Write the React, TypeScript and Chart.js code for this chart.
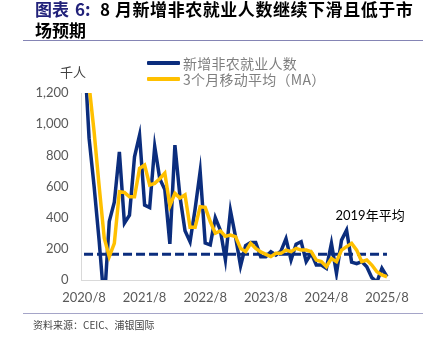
import React, { useEffect, useRef } from "react";
import { Chart, registerables } from "chart.js";

Chart.register(...registerables);

// Monthly categories 2020/8 .. 2025/8
const startYear = 2020;
const startMonth = 8;
const monthCount = 61;
const categories: string[] = [];
for (let i = 0; i < monthCount; i++) {
  const m = startMonth - 1 + i;
  categories.push(`${startYear + Math.floor(m / 12)}/${(m % 12) + 1}`);
}

const tickLabels = ["2020/8", "2021/8", "2022/8", "2023/8", "2024/8", "2025/8"];
const yTicks = [0, 200, 400, 600, 800, 1000, 1200];

// 新增非农就业人数 (千人)
const payrolls = [
  1500, 910, 600, 250, -150, 376, 500, 822, 365, 416, 790, 930,
  481, 465, 857, 650, 580, 232, 866, 535, 316, 246, 455, 697,
  237, 225, 400, 320, 130, 445, 278, 90, 220, 240, 240, 150,
  150, 182, 160, 185, 265, 128, 230, 246, 118, 171, 96, 96,
  75, 235, 43, 256, 320, 115, 105, 118, 85, 15, -13, 75,
  22,
];

// 3个月移动平均（MA）
const ma3 = [
  1900, 1250, 950, 600, 270, 150, 235, 566, 562, 534, 534, 716,
  737, 610, 620, 650, 686, 476, 556, 526, 546, 338, 338, 470,
  466, 375, 300, 315, 280, 288, 278, 203, 182, 235, 203, 180,
  165, 150, 171, 171, 192, 182, 203, 192, 192, 182, 128, 118,
  85, 139, 118, 192, 214, 235, 192, 118, 128, 96, 53, 32,
  21,
];

const avg2019 = 166;
const avgLabel = "2019年平均";

const NAVY = "#0B2D7D";
const GOLD = "#FFC000";

const labelPlugin = {
  id: "avgLabel",
  afterDatasetsDraw(chart: any) {
    const { ctx, scales } = chart;
    const x = scales.x.getPixelForValue(49.8);
    const y = scales.y.getPixelForValue(410);
    ctx.save();
    ctx.font = "13px Lato, 'Noto Sans CJK SC'";
    ctx.fillStyle = "#000";
    ctx.textAlign = "left";
    ctx.textBaseline = "middle";
    ctx.fillText(avgLabel, x, y);
    ctx.restore();
  },
};

export default function App() {
  const ref = useRef<HTMLCanvasElement | null>(null);

  useEffect(() => {
    if (!ref.current) return;
    const chart = new Chart(ref.current, {
      type: "line",
      data: {
        labels: categories,
        datasets: [
          {
            label: "3个月移动平均（MA）",
            data: ma3,
            borderColor: GOLD,
            backgroundColor: GOLD,
            borderWidth: 3.5,
            pointRadius: 0,
            tension: 0,
            order: 0,
          },
          {
            label: "新增非农就业人数",
            data: payrolls,
            borderColor: NAVY,
            backgroundColor: NAVY,
            borderWidth: 3.5,
            pointRadius: 0,
            tension: 0,
            order: 1,
          },
          {
            label: avgLabel,
            data: categories.map(() => avg2019),
            borderColor: NAVY,
            backgroundColor: NAVY,
            borderWidth: 3,
            borderDash: [9, 4],
            pointRadius: 0,
            tension: 0,
            order: 2,
          },
        ],
      },
      options: {
        responsive: false,
        animation: false,
        devicePixelRatio: 1,
        layout: { padding: { left: 0, right: 39.5, top: 93, bottom: 18 } },
        plugins: { legend: { display: false }, tooltip: { enabled: false } },
        scales: {
          x: {
            offset: true,
            grid: { display: false, drawTicks: false },
            border: { color: "#D9D9D9", width: 1 },
            ticks: {
              autoSkip: false,
              maxRotation: 0,
              minRotation: 0,
              padding: 10,
              color: "#595959",
              font: { family: "Lato", size: 13 },
              callback: (_v: any, i: number) =>
                tickLabels.includes(categories[i]) ? categories[i] : "",
            },
            afterFit: (s: any) => {
              s.height = 40;
            },
          },
          y: {
            min: yTicks[0],
            max: yTicks[yTicks.length - 1],
            grid: { display: false, drawTicks: false },
            border: { color: "#D9D9D9", width: 1 },
            ticks: {
              stepSize: 200,
              padding: 13,
              color: "#595959",
              font: { family: "Lato", size: 13 },
              callback: (v: any) => Number(v).toLocaleString("en-US"),
            },
            afterFit: (s: any) => {
              s.width = 81.5;
            },
          },
        },
      },
      plugins: [labelPlugin],
    });
    return () => chart.destroy();
  }, []);

  const cjk = "'Noto Sans CJK SC', sans-serif";
  const abs = (o: React.CSSProperties): React.CSSProperties => ({
    position: "absolute",
    whiteSpace: "pre",
    lineHeight: 1,
    ...o,
  });

  return (
    <div
      style={{
        position: "absolute",
        left: 0,
        top: 0,
        width: 429,
        height: 338,
        background: "#fff",
        overflow: "hidden",
        fontFamily: cjk,
      }}
    >
      <canvas
        ref={ref}
        width={429}
        height={338}
        style={{ position: "absolute", left: 0, top: 0, width: 429, height: 338 }}
      />
      <div style={abs({ left: 35, top: 0, fontSize: 17, fontWeight: 700, color: "#22227A" })}>
        图表
      </div>
      <div style={abs({ left: 75, top: 0, fontSize: 17, fontWeight: 700, color: "#22227A" })}>
        6:
      </div>
      <div style={abs({ left: 100, top: 0, fontSize: 17, fontWeight: 700, color: "#000", letterSpacing: 0.55 })}>
        8 月新增非农就业人数继续下滑且低于市
      </div>
      <div style={abs({ left: 35, top: 21, fontSize: 17, fontWeight: 700, color: "#000", letterSpacing: 0 })}>
        场预期
      </div>
      <div style={abs({ left: 23, top: 40, width: 400, height: 0, borderTop: "1.5px solid #8585B5" })} />
      <div style={abs({ left: 60, top: 65, fontSize: 13, color: "#404040", letterSpacing: 0 })}>千人</div>
      <div style={abs({ left: 147, top: 61, width: 33, height: 4, background: NAVY, borderRadius: 1 })} />
      <div style={abs({ left: 183, top: 56, fontSize: 14, color: "#7f7f7f", letterSpacing: 0.25 })}>
        新增非农就业人数
      </div>
      <div style={abs({ left: 147, top: 77, width: 33, height: 4, background: GOLD, borderRadius: 1 })} />
      <div style={abs({ left: 183, top: 72, fontSize: 14, color: "#7f7f7f", letterSpacing: 0.25 })}>
        3个月移动平均（MA）
      </div>
      <div style={abs({ left: 23, top: 313, width: 400, height: 0, borderTop: "1.5px solid #A5A5C8" })} />
      <div style={abs({ left: 33, top: 320, fontSize: 10, color: "#444" })}>资料来源：CEIC、浦银国际</div>
    </div>
  );
}
